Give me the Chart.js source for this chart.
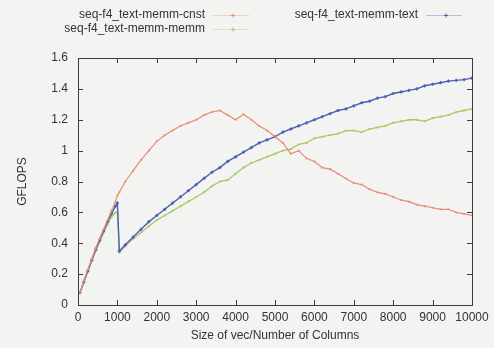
<!DOCTYPE html>
<html>
<head>
<meta charset="utf-8">
<script src="https://cdn.jsdelivr.net/npm/chart.js@4.4.1/dist/chart.umd.min.js"></script>
<style>
  html, body { margin: 0; padding: 0; background: #f3f3f1; }
  #wrap { width: 494px; height: 348px; position: relative; }
</style>
</head>
<body>
<div id="wrap"><canvas id="gflopsChart"></canvas></div>
<script>
// sizes of vec / number of columns
const sizes = [50, 150, 250, 350, 450, 550, 650, 750, 850, 950, 1000, 1050,
  1200, 1400, 1600, 1800, 2000, 2200, 2400, 2600, 2800, 3000, 3200, 3400, 3600, 3800,
  4000, 4200, 4400, 4600, 4800, 5000, 5200, 5400, 5600, 5800, 6000, 6200, 6400, 6600,
  6800, 7000, 7200, 7400, 7600, 7800, 8000, 8200, 8400, 8600, 8800, 9000, 9200, 9400,
  9600, 9800, 10000];

const seriesNames = ['seq-f4_text-memm-cnst', 'seq-f4_text-memm-text', 'seq-f4_text-memm-memm'];

const cnstVals = [0.08, 0.16, 0.23, 0.30, 0.37, 0.43, 0.49, 0.55, 0.61, 0.67, 0.71, 0.73,
  0.80, 0.87, 0.94, 1.00, 1.06, 1.10, 1.13, 1.16, 1.18, 1.20, 1.23, 1.25, 1.26, 1.23,
  1.20, 1.235, 1.20, 1.16, 1.13, 1.09, 1.05, 0.98, 1.00, 0.95, 0.93, 0.89, 0.88, 0.85,
  0.82, 0.79, 0.78, 0.75, 0.73, 0.72, 0.70, 0.68, 0.67, 0.65, 0.64, 0.63, 0.62, 0.62,
  0.60, 0.59, 0.58];

const textVals = [0.08, 0.15, 0.22, 0.29, 0.36, 0.42, 0.48, 0.54, 0.59, 0.64, 0.66, 0.35,
  0.39, 0.44, 0.49, 0.54, 0.58, 0.62, 0.66, 0.70, 0.74, 0.78, 0.82, 0.86, 0.89, 0.93,
  0.96, 0.99, 1.02, 1.05, 1.07, 1.09, 1.12, 1.14, 1.16, 1.18, 1.20, 1.22, 1.24, 1.26,
  1.27, 1.29, 1.31, 1.32, 1.34, 1.35, 1.37, 1.38, 1.39, 1.40, 1.42, 1.43, 1.44, 1.45,
  1.455, 1.46, 1.47];

const memmVals = [0.08, 0.15, 0.22, 0.29, 0.35, 0.41, 0.47, 0.52, 0.57, 0.60, 0.60, 0.34,
  0.38, 0.43, 0.47, 0.51, 0.55, 0.58, 0.61, 0.64, 0.67, 0.70, 0.73, 0.77, 0.80, 0.81,
  0.85, 0.89, 0.92, 0.94, 0.96, 0.98, 1.00, 1.01, 1.04, 1.05, 1.08, 1.09, 1.10, 1.11,
  1.13, 1.13, 1.12, 1.14, 1.15, 1.16, 1.18, 1.19, 1.20, 1.20, 1.19, 1.21, 1.22, 1.23,
  1.25, 1.26, 1.27];

const xTicks = [0, 1000, 2000, 3000, 4000, 5000, 6000, 7000, 8000, 9000, 10000];
const yTicks = [0, 0.2, 0.4, 0.6, 0.8, 1, 1.2, 1.4, 1.6];

const colors = ['#e88c76', '#4b60b3', '#a9c862'];
const fontFam = '"Liberation Sans", Arial, sans-serif';

function toPoints(vals) {
  return sizes.map((s, i) => ({ x: s, y: vals[i] }));
}

// gnuplot style frame with inward ticks on all four sides
const framePlugin = {
  id: 'frame',
  afterDatasetsDraw(chart) {
    const { ctx, chartArea: a, scales } = chart;
    ctx.save();
    ctx.strokeStyle = '#3c3c3c';
    ctx.lineWidth = 1;
    ctx.strokeRect(a.left + 0.5, a.top + 0.5, a.right - a.left, a.bottom - a.top);
    const len = 5;
    ctx.beginPath();
    xTicks.forEach(v => {
      const px = Math.round(scales.x.getPixelForValue(v)) + 0.5;
      ctx.moveTo(px, a.bottom); ctx.lineTo(px, a.bottom - len);
      ctx.moveTo(px, a.top); ctx.lineTo(px, a.top + len);
    });
    yTicks.forEach(v => {
      const py = Math.round(scales.y.getPixelForValue(v)) + 0.5;
      ctx.moveTo(a.left, py); ctx.lineTo(a.left + len, py);
      ctx.moveTo(a.right, py); ctx.lineTo(a.right - len, py);
    });
    ctx.stroke();
    ctx.restore();
  }
};

// key drawn at the top like gnuplot: label right aligned, then a line sample
const keyPlugin = {
  id: 'gpKey',
  afterDraw(chart) {
    const { ctx } = chart;
    const spots = [
      { tx: 205, y: 15, sx: 213 },
      { tx: 418, y: 15, sx: 426 },
      { tx: 205, y: 29, sx: 213 }
    ];
    ctx.save();
    ctx.font = '12px ' + fontFam;
    ctx.textAlign = 'right';
    ctx.textBaseline = 'middle';
    chart.data.datasets.forEach((ds, i) => {
      const s = spots[i];
      ctx.fillStyle = '#333';
      ctx.fillText(ds.label, s.tx, s.y);
      ctx.strokeStyle = ds.borderColor;
      ctx.globalAlpha = 0.35;
      ctx.lineWidth = 1;
      ctx.beginPath();
      ctx.moveTo(s.sx, s.y + 0.5); ctx.lineTo(s.sx + 36, s.y + 0.5);
      ctx.stroke();
      ctx.globalAlpha = 1;
      const cx = s.sx + 20;
      ctx.beginPath();
      ctx.moveTo(cx - 2, s.y + 0.5); ctx.lineTo(cx + 2, s.y + 0.5);
      ctx.moveTo(cx, s.y - 1.5); ctx.lineTo(cx, s.y + 2.5);
      ctx.stroke();
    });
    ctx.restore();
  }
};

new Chart(document.getElementById('gflopsChart'), {
  type: 'line',
  data: {
    datasets: [
      { label: seriesNames[0], data: toPoints(cnstVals), borderColor: colors[0], backgroundColor: colors[0],
        borderWidth: 1.2, pointRadius: 1, pointStyle: 'cross', tension: 0 },
      { label: seriesNames[1], data: toPoints(textVals), borderColor: colors[1], backgroundColor: colors[1],
        borderWidth: 1.4, pointRadius: 1.6, pointStyle: 'cross', tension: 0 },
      { label: seriesNames[2], data: toPoints(memmVals), borderColor: colors[2], backgroundColor: colors[2],
        borderWidth: 1.3, pointRadius: 1, pointStyle: 'cross', tension: 0 }
    ]
  },
  options: {
    responsive: true,
    maintainAspectRatio: false,
    animation: false,
    layout: { padding: { left: 0, right: 22, top: 58, bottom: 5 } },
    plugins: {
      legend: { display: false },
      tooltip: { enabled: false }
    },
    scales: {
      x: {
        type: 'linear',
        min: 0, max: 10000,
        afterBuildTicks(scale) { scale.ticks = xTicks.map(v => ({ value: v })); },
        grid: { display: false, drawTicks: false },
        border: { display: false },
        ticks: { color: '#333', padding: 5, maxRotation: 0, callback: v => String(v),
          font: { size: 12, family: fontFam } },
        title: { display: true, text: 'Size of vec/Number of Columns', color: '#333',
          padding: { top: 1, bottom: 0 }, font: { size: 12, family: fontFam } },
        afterFit(scale) { scale.height = 38; }
      },
      y: {
        min: 0, max: 1.6,
        afterBuildTicks(scale) { scale.ticks = yTicks.map(v => ({ value: v })); },
        grid: { display: false, drawTicks: false },
        border: { display: false },
        ticks: { color: '#333', padding: 10, callback: v => String(v),
          font: { size: 12, family: fontFam } },
        title: { display: true, text: 'GFLOPS', color: '#333',
          padding: { top: 15, bottom: 0 }, font: { size: 12, family: fontFam } },
        afterFit(scale) { scale.width = 78; }
      }
    }
  },
  plugins: [framePlugin, keyPlugin]
});
</script>
</body>
</html>
